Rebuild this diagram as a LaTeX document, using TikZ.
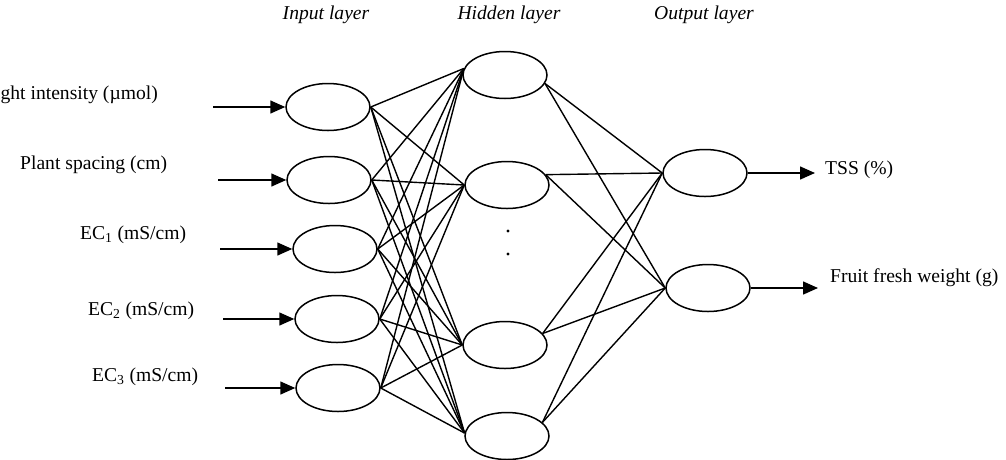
\documentclass[tikz,border=0pt]{standalone}
\usepackage{fontspec}
\setmainfont{Liberation Serif}
\usetikzlibrary{shapes.geometric,arrows.meta}

\begin{document}
\begin{tikzpicture}[
            x=1pt, y=-1pt,
            every node/.style={font=\fontsize{19.6}{22}\selectfont},
            neuron/.style={draw, ellipse, line width=1.5pt, minimum width=84pt, minimum height=47pt, inner sep=0pt},
            link/.style={line width=1.4pt},
            feed/.style={line width=1.5pt, -{Triangle[length=15pt,width=13pt]}},
            title/.style={font=\fontsize{19.6}{22}\selectfont\itshape},
            lbl/.style={inner sep=0pt}, ]
            \useasboundingbox (0,0) rectangle (1006,459);

            % layer titles
            \node[title] (tin)  at (326,15) {Input layer};
            \node[title] (thid) at (509,15) {Hidden layer};
            \node[title] (tout) at (704,15) {Output layer};

            % input layer
            \node[neuron] (in1) at (328,107) {};
            \node[neuron] (in2) at (329,180) {};
            \node[neuron] (in3) at (335,249) {};
            \node[neuron] (in4) at (337,319) {};
            \node[neuron] (in5) at (338,388) {};

            % hidden layer
            \node[neuron] (hid1) at (505,75) {};
            \node[neuron] (hid2) at (507,185) {};
            \node[neuron] (hid3) at (505,345) {};
            \node[neuron] (hid4) at (507,436) {};
            \fill (508,231) circle (1.7pt);
            \fill (508,254) circle (1.7pt);

            % output layer
            \node[neuron] (out1) at (705,173) {};
            \node[neuron] (out2) at (708,288) {};

            % inputs
            \node[lbl, anchor=east] (light) at (158,95) {Light intensity (µmol)};
            \node[lbl, anchor=west] (space) at (20,165) {Plant spacing (cm)};
            \node[lbl, anchor=west] (ec1) at (80,235) {EC\textsubscript{1} (mS/cm)};
            \node[lbl, anchor=west] (ec2) at (88,311) {EC\textsubscript{2} (mS/cm)};
            \node[lbl, anchor=west] (ec3) at (92,377) {EC\textsubscript{3} (mS/cm)};
            \coordinate (src1) at (213,107);
            \coordinate (src2) at (218,180);
            \coordinate (src3) at (220,249);
            \coordinate (src4) at (223,319);
            \coordinate (src5) at (225,388);
            \foreach \i in {1,...,5}
              \draw[feed] (src\i) -- (in\i.west);

            % outputs
            \node[lbl, anchor=west] (tss) at (825,170) {TSS (\%)};
            \node[lbl, anchor=west] (fw) at (830,278) {Fruit fresh weight (g)};
            \coordinate (dst1) at (815,173);
            \coordinate (dst2) at (818,288);
            \draw[feed] (out1.east) -- (dst1);
            \draw[feed] (out2.east) -- (dst2);

            % weights
            \foreach \j/\l/\r in {1/171/348, 2/180/15, 3/180/17, 4/176/21} {
              \foreach \i in {1,...,5}
                \draw[link] (in\i.east) -- (hid\j.\l);
              \foreach \k in {1,2}
                \draw[link] (hid\j.\r) -- (out\k.west);
            }
          \end{tikzpicture}
\end{document}
